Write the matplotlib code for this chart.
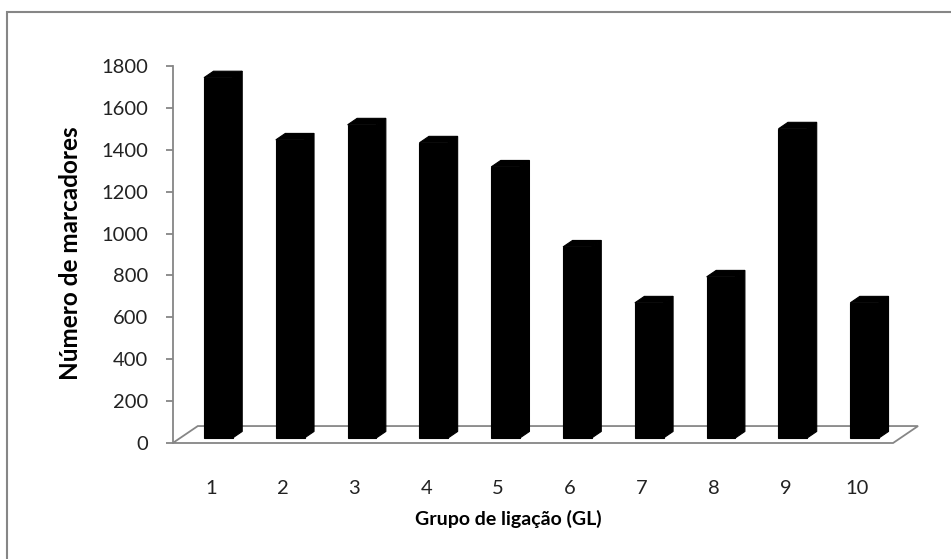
import matplotlib.pyplot as plt
from matplotlib.patches import Polygon, Rectangle
import numpy as np

plt.rcParams['font.family'] = ['Lato', 'DejaVu Sans']

grupos = [1, 2, 3, 4, 5, 6, 7, 8, 9, 10]
marcadores = [1720, 1423, 1495, 1409, 1294, 912, 645, 769, 1476, 645]
yticks = [0, 200, 400, 600, 800, 1000, 1200, 1400, 1600, 1800]

# oblique 3d look (Excel style)
floor_dx, floor_dy = 0.348, 81      # floor depth in data units
bar_w = 0.40
bar_front = 0.30                    # front face position along depth
bar_depth = 0.38                    # bar depth as fraction of floor depth
grey = '#868686'

fig = plt.figure(figsize=(9.51, 5.59), dpi=100)
ax = fig.add_axes([172.8 / 951, (559 - 443) / 559, 749 / 951, 377 / 559])
ax.set_xlim(0.47, 10.9)
ax.set_ylim(0, 1800)

# chart border (only top/left visible in the picture)
fig.patches.append(Rectangle((7 / 951, -0.05), 1.1, 1.05 - 12 / 559,
                             transform=fig.transFigure, fill=False,
                             edgecolor=grey, linewidth=1.5))

# floor
x0, x1 = 0.47, 10.5
floor = Polygon([(x0, 0), (x1, 0), (x1 + floor_dx, floor_dy), (x0 + floor_dx, floor_dy)],
                closed=True, facecolor='white', edgecolor=grey, linewidth=1.3,
                clip_on=False, zorder=1)
ax.add_patch(floor)

# bars: front face via bar(), top and side as polygons
fx, fy = bar_front * floor_dx, bar_front * floor_dy
ddx, ddy = bar_depth * floor_dx, bar_depth * floor_dy
x = np.array(grupos, dtype=float)
ax.bar(x + fx, marcadores, width=bar_w, bottom=fy, color='black',
       edgecolor='black', linewidth=0.8, zorder=3, clip_on=False)
for xi, v in zip(x, marcadores):
    l, r = xi + fx - bar_w / 2, xi + fx + bar_w / 2
    top = fy + v
    ax.add_patch(Polygon([(l, top), (l + ddx, top + ddy), (r + ddx, top + ddy), (r, top)],
                         closed=True, facecolor='black', edgecolor='black', lw=0.8,
                         zorder=3, clip_on=False))
    ax.add_patch(Polygon([(r, fy), (r, top), (r + ddx, top + ddy), (r + ddx, fy + ddy)],
                         closed=True, facecolor='black', edgecolor='black', lw=0.8,
                         zorder=3, clip_on=False))

for s in ['top', 'right', 'bottom']:
    ax.spines[s].set_visible(False)
ax.spines['left'].set_color(grey)
ax.spines['left'].set_linewidth(1.3)
ax.set_yticks(yticks)
ax.tick_params(axis='y', length=5, width=1.3, color=grey, pad=13, labelsize=14.5,
               labelcolor='#222222')
ax.set_xticks(grupos)
ax.set_xticklabels([str(g) for g in grupos])
ax.tick_params(axis='x', length=0, pad=27, labelsize=14.5, labelcolor='#222222')
ax.patch.set_visible(False)

fig.text(71 / 951, 1 - 253 / 559, 'Número de marcadores', rotation=90, fontsize=17.5,
         fontweight='bold', ha='center', va='center')
fig.text(508 / 951, 1 - 519 / 559, 'Grupo de ligação (GL)', fontsize=14,
         fontweight='bold', ha='center', va='center')

fig.savefig('out.png', dpi=100)
